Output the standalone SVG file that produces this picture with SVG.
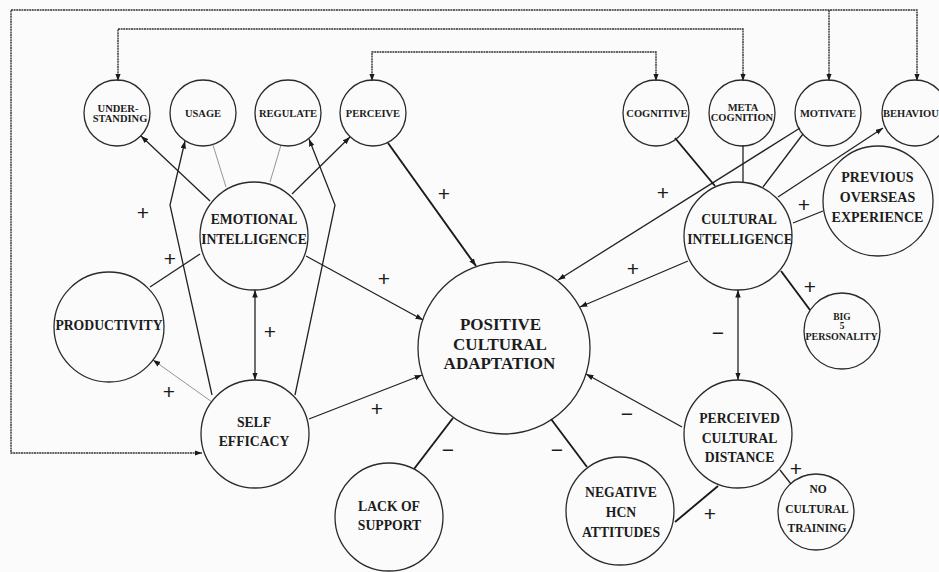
<svg xmlns="http://www.w3.org/2000/svg" width="939" height="572" viewBox="0 0 939 572">
  <style>
    .node circle { fill: none; stroke: #2a2a2a; stroke-width: 1.3; }
    .node text { font-family: "Liberation Serif", "Times New Roman", serif; font-weight: bold; fill: #1c1c1c; text-anchor: middle; }
    .s text { font-size: 10.5px; }
    .m text { font-size: 13.7px; }
    .l text { font-size: 17px; }
    .c { fill: none; stroke: #222; stroke-width: 1.3; }
    .k { fill: none; stroke: #1a1a1a; stroke-width: 1.9; }
    .t { fill: none; stroke: #8a8a8a; stroke-width: 0.9; }
    .d { fill: none; stroke: #333; stroke-width: 1.4; stroke-dasharray: 2 0.6; }
    .sign { font-family: "Liberation Sans", Arial, sans-serif; font-size: 21px; fill: #1c1c1c; text-anchor: middle; }
  </style>
  <defs>
    <marker id="arrow" markerUnits="userSpaceOnUse" markerWidth="8" markerHeight="6" refX="7.5" refY="2.75" orient="auto-start-reverse">
      <path d="M0,0 L7.5,2.75 L0,5.5 z" fill="#1a1a1a"/>
    </marker>
  </defs>

  <rect x="0" y="0" width="939" height="572" fill="#fbfbfb"/>

  <!-- connectors -->
  <g id="connectors">
    <!-- feedback loops along the top -->
    <path class="d" d="M917,81 V10 H11 V453 H202" marker-start="url(#arrow)" marker-end="url(#arrow)"/>
    <path class="d" d="M829,10 V81" marker-end="url(#arrow)"/>
    <path class="d" d="M118,81 V29 H743 V81" marker-start="url(#arrow)" marker-end="url(#arrow)"/>
    <path class="d" d="M372,81 V52 H656 V81" marker-start="url(#arrow)" marker-end="url(#arrow)"/>

    <!-- emotional intelligence branches -->
    <path class="c" d="M210,201 L141,136" marker-end="url(#arrow)"/>
    <path class="t" d="M213,145 L226,187"/>
    <path class="t" d="M281,145 L270,182"/>
    <path class="c" d="M292,194 L350,137" marker-end="url(#arrow)"/>
    <path class="c" d="M212,395 L170,205 L185,141" marker-end="url(#arrow)"/>
    <path class="c" d="M295,395 L335,205 L309,139" marker-end="url(#arrow)"/>
    <path class="c" d="M255,290 L255,380" marker-start="url(#arrow)" marker-end="url(#arrow)"/>
    <path class="c" d="M150,287 L200,254"/>
    <path class="t" d="M212,402 L153,360" marker-end="url(#arrow)"/>

    <!-- into positive cultural adaptation -->
    <path class="c" d="M306,256 L423,320" marker-end="url(#arrow)"/>
    <path class="c" d="M309,419 L422,375" marker-end="url(#arrow)"/>
    <path class="k" d="M388,143 L476,266" marker-end="url(#arrow)"/>
    <path class="k" d="M414,469 L453,418"/>
    <path class="k" d="M587,467 L551,419"/>
    <path class="c" d="M682,427 L586,374" marker-end="url(#arrow)"/>
    <path class="c" d="M688,261 L580,307" marker-end="url(#arrow)"/>
    <path class="c" d="M800,128 L558,280" marker-end="url(#arrow)"/>

    <!-- cultural distance side -->
    <path class="k" d="M675,522 L718,486"/>
    <path class="c" d="M780,470 L791,484"/>
    <path class="c" d="M738,290 L738,380" marker-start="url(#arrow)" marker-end="url(#arrow)"/>

    <!-- cultural intelligence branches -->
    <path class="k" d="M675,138 L715,186"/>
    <path class="c" d="M743,145 L743,182"/>
    <path class="c" d="M803,134 L763,187"/>
    <path class="c" d="M778,197 L883,128" marker-end="url(#arrow)"/>
    <path class="c" d="M823,211 L793,223"/>
    <path class="k" d="M781,271 L810,310"/>
  </g>

  <!-- signs on the links -->
  <g id="signs">
    <text class="sign" x="444" y="201">+</text>
    <text class="sign" x="143" y="220">+</text>
    <text class="sign" x="170" y="266">+</text>
    <text class="sign" x="384" y="286">+</text>
    <text class="sign" x="270" y="339">+</text>
    <text class="sign" x="169" y="399">+</text>
    <text class="sign" x="377" y="416">+</text>
    <text class="sign" x="448" y="457">−</text>
    <text class="sign" x="627" y="421">−</text>
    <text class="sign" x="557" y="457">−</text>
    <text class="sign" x="710" y="521">+</text>
    <text class="sign" x="796" y="476">+</text>
    <text class="sign" x="718" y="340">−</text>
    <text class="sign" x="633" y="276">+</text>
    <text class="sign" x="663" y="200">+</text>
    <text class="sign" x="804" y="212">+</text>
    <text class="sign" x="810" y="294">+</text>
  </g>

  <!-- emotional intelligence components -->
  <g id="understanding" class="node s">
    <circle cx="117" cy="113" r="33"/>
    <text x="118" y="111.5">UNDER-</text>
    <text x="120" y="121.5">STANDING</text>
  </g>
  <g id="usage" class="node s">
    <circle cx="203" cy="113" r="33"/>
    <text x="203" y="116.5">USAGE</text>
  </g>
  <g id="regulate" class="node s">
    <circle cx="288" cy="113" r="33"/>
    <text x="288" y="116.5">REGULATE</text>
  </g>
  <g id="perceive" class="node s">
    <circle cx="373" cy="113" r="33"/>
    <text x="373" y="116.5">PERCEIVE</text>
  </g>

  <!-- cultural intelligence components -->
  <g id="cognitive" class="node s">
    <circle cx="656" cy="113" r="33"/>
    <text x="657" y="116.5">COGNITIVE</text>
  </g>
  <g id="metacognition" class="node s">
    <circle cx="742" cy="113" r="33"/>
    <text x="743" y="111">META</text>
    <text x="742" y="121">COGNITION</text>
  </g>
  <g id="motivate" class="node s">
    <circle cx="828" cy="113" r="33"/>
    <text x="828" y="116.5">MOTIVATE</text>
  </g>
  <g id="behaviour" class="node s">
    <circle cx="915" cy="113" r="33"/>
    <text x="883" y="116.5" style="text-anchor:start">BEHAVIOU</text>
  </g>

  <!-- main constructs -->
  <g id="emotional-intelligence" class="node m">
    <circle cx="254" cy="236" r="54"/>
    <text x="254" y="224">EMOTIONAL</text>
    <text x="254" y="243.5">INTELLIGENCE</text>
  </g>
  <g id="productivity" class="node m">
    <circle cx="109" cy="327" r="55"/>
    <text x="109" y="330">PRODUCTIVITY</text>
  </g>
  <g id="self-efficacy" class="node m">
    <circle cx="255" cy="434" r="54"/>
    <text x="254" y="427">SELF</text>
    <text x="254" y="446">EFFICACY</text>
  </g>
  <g id="lack-of-support" class="node m">
    <circle cx="389" cy="517" r="54"/>
    <text x="389" y="511">LACK OF</text>
    <text x="389.5" y="530">SUPPORT</text>
  </g>
  <g id="positive-cultural-adaptation" class="node l">
    <circle cx="504" cy="348" r="86"/>
    <text x="500.5" y="330">POSITIVE</text>
    <text x="500" y="350">CULTURAL</text>
    <text x="499.5" y="369">ADAPTATION</text>
  </g>
  <g id="cultural-intelligence" class="node m">
    <circle cx="738" cy="236" r="54"/>
    <text x="739" y="224">CULTURAL</text>
    <text x="740" y="243.5">INTELLIGENCE</text>
  </g>
  <g id="previous-overseas-experience" class="node m">
    <circle cx="878" cy="201" r="55"/>
    <text x="877.5" y="182" style="font-size:14px">PREVIOUS</text>
    <text x="877.5" y="202" style="font-size:14px">OVERSEAS</text>
    <text x="877.5" y="221.5" style="font-size:14px">EXPERIENCE</text>
  </g>
  <g id="big-5-personality" class="node s">
    <circle cx="842" cy="331" r="38"/>
    <text x="842" y="320" style="font-size:9.5px">BIG</text>
    <text x="842" y="328.5" style="font-size:9.5px">5</text>
    <text x="841.5" y="340" style="font-size:10px">PERSONALITY</text>
  </g>
  <g id="perceived-cultural-distance" class="node m">
    <circle cx="738" cy="434" r="54"/>
    <text x="739.5" y="423">PERCEIVED</text>
    <text x="739.5" y="442.5">CULTURAL</text>
    <text x="739.5" y="462">DISTANCE</text>
  </g>
  <g id="negative-hcn-attitudes" class="node m">
    <circle cx="620" cy="511" r="54"/>
    <text x="621" y="497">NEGATIVE</text>
    <text x="621" y="517">HCN</text>
    <text x="621" y="536.5">ATTITUDES</text>
  </g>
  <g id="no-cultural-training" class="node m">
    <circle cx="816" cy="512" r="38"/>
    <text x="818" y="493" style="font-size:11.5px">NO</text>
    <text x="817" y="512.5" style="font-size:11.5px">CULTURAL</text>
    <text x="817" y="531.5" style="font-size:11.5px">TRAINING</text>
  </g>
</svg>
